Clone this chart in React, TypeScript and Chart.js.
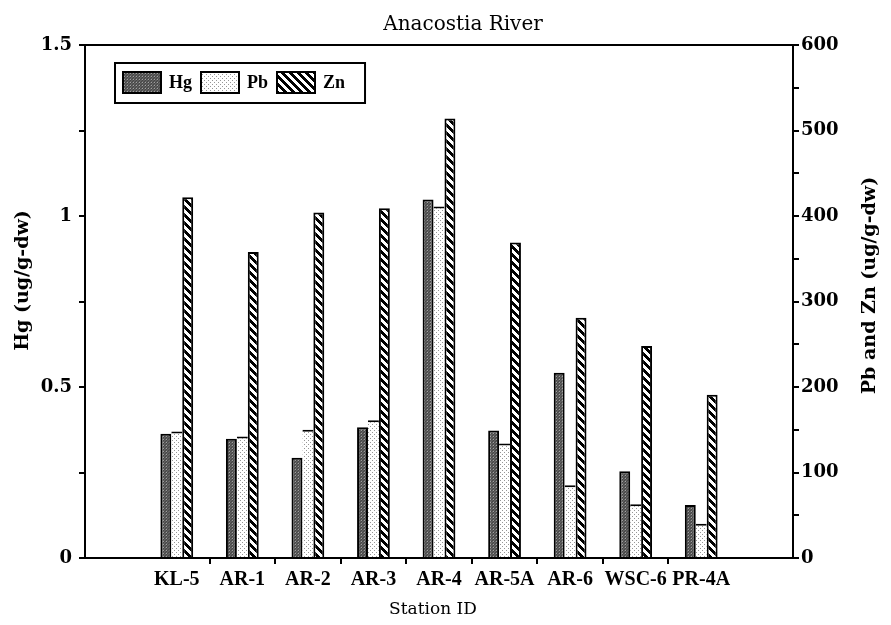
import React, { useEffect, useRef } from 'react';
import { Chart, registerables } from 'chart.js';

Chart.register(...registerables);

// ---------------- data ----------------
const chartTitle = 'Anacostia River';
const xAxisTitle = 'Station ID';
const leftAxisTitle = 'Hg (ug/g-dw)';
const rightAxisTitle = 'Pb and Zn (ug/g-dw)';

const stations = ['KL-5', 'AR-1', 'AR-2', 'AR-3', 'AR-4', 'AR-5A', 'AR-6', 'WSC-6', 'PR-4A'];
const hgValues = [0.363, 0.349, 0.293, 0.382, 1.048, 0.373, 0.542, 0.254, 0.155];
const pbValues = [148, 142, 150, 161, 411, 134, 85, 63, 40];
const znValues = [422, 358, 404, 409, 514, 369, 281, 248, 191];

const hgTickLabels = [0, 0.5, 1, 1.5];
const pbZnTickLabels = [0, 100, 200, 300, 400, 500, 600];

// ---------------- styling helpers ----------------
function makePattern(kind: 'hg' | 'pb' | 'zn'): CanvasPattern | string {
  const size = kind === 'hg' ? 3 : kind === 'pb' ? 4 : 8;
  const c = document.createElement('canvas');
  c.width = size;
  c.height = size;
  const g = c.getContext('2d');
  if (!g) return '#888';
  const img = g.createImageData(size, size);
  for (let y = 0; y < size; y++) {
    for (let x = 0; x < size; x++) {
      let v = 255;
      if (kind === 'hg') {
        v = x === 1 && y === 1 ? 160 : (x + y) % 3 === 0 ? 70 : 95;
      } else if (kind === 'pb') {
        v = (x === 0 && y === 0) || (x === 2 && y === 2) ? 150 : 255;
      } else {
        v = ((x - y + size * 2) % size) < 4 ? 0 : 255;
      }
      const i = (y * size + x) * 4;
      img.data[i] = v;
      img.data[i + 1] = v;
      img.data[i + 2] = v;
      img.data[i + 3] = 255;
    }
  }
  g.putImageData(img, 0, 0);
  const p = g.createPattern(c, 'repeat');
  return p || '#888';
}

const SERIF = '"DejaVu Serif", "Liberation Serif", serif';
const LSERIF = '"Liberation Serif", "DejaVu Serif", serif';

const decorPlugin = {
  id: 'decor',
  afterDraw(chart: any) {
    const { ctx, chartArea: a } = chart;
    ctx.save();
    // top frame line
    ctx.strokeStyle = '#000';
    ctx.lineWidth = 2;
    ctx.beginPath();
    ctx.moveTo(a.left, a.top);
    ctx.lineTo(a.right, a.top);
    ctx.stroke();

    ctx.fillStyle = '#000';
    // title
    ctx.font = `20px ${SERIF}`;
    ctx.textAlign = 'center';
    ctx.textBaseline = 'alphabetic';
    ctx.fillText(chartTitle, (a.left + a.right) / 2 + 24, 30);

    // x axis title
    ctx.font = `17px ${SERIF}`;
    ctx.fillText(xAxisTitle, (a.left + a.right) / 2 - 6, 614);

    // left axis title
    const midY = (a.top + a.bottom) / 2;
    ctx.font = `bold 19px ${SERIF}`;
    ctx.save();
    ctx.translate(23, midY - 21);
    ctx.rotate(-Math.PI / 2);
    ctx.textBaseline = 'middle';
    ctx.fillText(leftAxisTitle, 0, 0);
    ctx.restore();

    // right axis title
    ctx.save();
    ctx.translate(870, midY - 16);
    ctx.rotate(-Math.PI / 2);
    ctx.textBaseline = 'middle';
    ctx.fillText(rightAxisTitle, 0, 0);
    ctx.restore();

    // legend
    const datasets = chart.data.datasets;
    ctx.font = `bold 18px ${LSERIF}`;
    const swW = 38;
    const swH = 21;
    const boxX = a.left + 30;
    const boxY = a.top + 18;
    const boxH = 40;
    let w = 8;
    datasets.forEach((ds: any, i: number) => {
      w += swW + 8 + ctx.measureText(ds.label).width + (i < datasets.length - 1 ? 9 : 0);
    });
    w += 20;
    ctx.fillStyle = '#fff';
    ctx.fillRect(boxX, boxY, w, boxH);
    ctx.lineWidth = 2;
    ctx.strokeStyle = '#000';
    ctx.strokeRect(boxX, boxY, w, boxH);
    let x = boxX + 8;
    const sy = boxY + 9;
    datasets.forEach((ds: any) => {
      ctx.fillStyle = ds.backgroundColor;
      ctx.fillRect(x, sy, swW, swH);
      ctx.lineWidth = 2;
      ctx.strokeStyle = '#000';
      ctx.strokeRect(x, sy, swW, swH);
      x += swW + 8;
      ctx.fillStyle = '#000';
      ctx.textAlign = 'left';
      ctx.textBaseline = 'alphabetic';
      ctx.fillText(ds.label, x, sy + 16);
      x += ctx.measureText(ds.label).width + 9;
    });
    ctx.restore();
  },
};

export default function App() {
  const ref = useRef<HTMLCanvasElement>(null);

  useEffect(() => {
    if (!ref.current) return;
    const hgFill = makePattern('hg');
    const pbFill = makePattern('pb');
    const znFill = makePattern('zn');
    const axisFont = { family: SERIF, size: 18, weight: 'bold' as const };

    const chart = new Chart(ref.current, {
      type: 'bar',
      data: {
        datasets: [
          {
            label: 'Hg',
            data: hgValues.map((v, i) => ({ x: i, y: v })),
            yAxisID: 'y',
            backgroundColor: hgFill as any,
            borderColor: '#000',
            borderWidth: 2,
          },
          {
            label: 'Pb',
            data: pbValues.map((v, i) => ({ x: i, y: v })),
            yAxisID: 'y1',
            backgroundColor: pbFill as any,
            borderColor: '#000',
            borderWidth: { top: 2, left: 0, right: 0, bottom: 0 },
          },
          {
            label: 'Zn',
            data: znValues.map((v, i) => ({ x: i, y: v })),
            yAxisID: 'y1',
            backgroundColor: znFill as any,
            borderColor: '#000',
            borderWidth: 2,
          },
        ],
      },
      options: {
        animation: false,
        responsive: true,
        maintainAspectRatio: false,
        categoryPercentage: 0.5,
        barPercentage: 1.0,
        layout: { padding: { top: 45, left: 0, right: 0, bottom: 0 } },
        plugins: {
          legend: { display: false },
          title: { display: false },
          tooltip: { enabled: false },
        },
        scales: {
          x: {
            type: 'linear',
            min: -1.4,
            max: 9.4,
            offset: false,
            bounds: 'data',
            afterBuildTicks: (s: any) => {
              s.ticks = stations.map((_, i) => ({ value: i }));
            },
            afterFit: (s: any) => {
              s.height = 67;
            },
            grid: {
              offset: true,
              drawOnChartArea: false,
              tickLength: 6,
              lineWidth: 2,
              color: (c: any) =>
                c.index !== undefined && c.index >= 1 && c.index <= stations.length - 1
                  ? '#000'
                  : 'rgba(0,0,0,0)',
            },
            border: { color: '#000', width: 2 },
            ticks: {
              autoSkip: false,
              maxRotation: 0,
              minRotation: 0,
              padding: 4,
              color: '#000',
              font: { family: LSERIF, size: 20, weight: 'bold' },
              callback: (v: any) => stations[v] ?? '',
            },
          },
          y: {
            type: 'linear',
            position: 'left',
            min: 0,
            max: 1.5,
            afterFit: (s: any) => {
              s.width = 85;
            },
            grid: { drawOnChartArea: false, tickLength: 6, lineWidth: 2, color: '#000' },
            border: { color: '#000', width: 2 },
            ticks: {
              stepSize: 0.25,
              padding: 7,
              color: '#000',
              font: axisFont,
              callback: (v: any) => (hgTickLabels.includes(v) ? String(v) : ''),
            },
          },
          y1: {
            type: 'linear',
            position: 'right',
            min: 0,
            max: 600,
            afterFit: (s: any) => {
              s.width = 98;
            },
            grid: { drawOnChartArea: false, tickLength: 6, lineWidth: 2, color: '#000' },
            border: { color: '#000', width: 2 },
            ticks: {
              stepSize: 50,
              padding: 2,
              color: '#000',
              font: axisFont,
              callback: (v: any) => (pbZnTickLabels.includes(v) ? String(v) : ''),
            },
          },
        },
      },
      plugins: [decorPlugin],
    } as any);

    return () => chart.destroy();
  }, []);

  return (
    <div
      style={{
        position: 'absolute',
        left: 0,
        top: 0,
        width: 891,
        height: 625,
        background: '#fff',
      }}
    >
      <canvas ref={ref} />
    </div>
  );
}
